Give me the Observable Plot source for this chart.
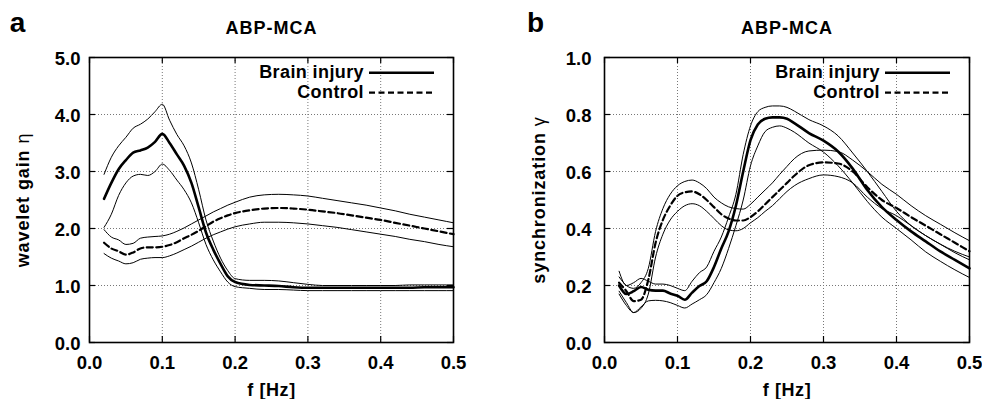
<!DOCTYPE html>
<html><head><meta charset="utf-8">
<script src="https://cdn.jsdelivr.net/npm/d3@7"></script>
<script src="https://cdn.jsdelivr.net/npm/@observablehq/plot@0.6"></script>
<style>
body{margin:0;background:#fff;}
#wrap{display:flex;width:982px;height:399px;background:#fff;}
</style></head><body><div id="wrap"></div>
<script>
// ---------- Panel a: wavelet gain ----------
const fA = [0.02,0.03,0.04,0.05,0.06,0.07,0.08,0.09,0.10,0.11,0.12,0.13,0.14,0.15,0.16,0.17,0.18,0.19,0.20,0.22,0.24,0.26,0.28,0.30,0.32,0.34,0.36,0.38,0.40,0.42,0.44,0.46,0.48,0.50];
const brainMeanA  = [2.52,2.80,3.04,3.20,3.33,3.37,3.42,3.52,3.66,3.50,3.30,3.10,2.80,2.37,1.93,1.63,1.38,1.16,1.06,1.01,1.00,0.99,0.97,0.96,0.96,0.96,0.96,0.96,0.96,0.96,0.96,0.97,0.97,0.97];
const brainUpperA = [2.95,3.25,3.45,3.60,3.76,3.83,3.92,4.05,4.18,3.90,3.65,3.45,3.15,2.68,2.15,1.78,1.48,1.26,1.12,1.09,1.09,1.08,1.05,1.02,1.00,1.00,1.00,1.00,1.00,1.00,1.01,1.01,1.01,1.01];
const brainLowerA = [2.02,2.25,2.58,2.80,2.92,2.95,2.93,3.00,3.13,3.02,2.85,2.68,2.45,2.10,1.72,1.45,1.24,1.06,0.98,0.95,0.93,0.93,0.92,0.91,0.91,0.91,0.91,0.91,0.91,0.91,0.91,0.91,0.91,0.91];
const controlMeanA  = [1.75,1.65,1.60,1.54,1.58,1.65,1.67,1.67,1.68,1.71,1.76,1.83,1.89,1.96,2.04,2.12,2.18,2.23,2.27,2.32,2.35,2.36,2.35,2.33,2.30,2.27,2.23,2.19,2.15,2.10,2.05,2.00,1.95,1.90];
const controlUpperA = [1.98,1.85,1.80,1.72,1.74,1.83,1.85,1.86,1.87,1.90,1.95,2.01,2.08,2.15,2.22,2.29,2.35,2.41,2.46,2.55,2.59,2.60,2.59,2.57,2.53,2.49,2.45,2.41,2.36,2.31,2.25,2.20,2.15,2.10];
const controlLowerA = [1.56,1.48,1.43,1.38,1.40,1.46,1.48,1.49,1.49,1.52,1.57,1.63,1.69,1.76,1.83,1.89,1.94,1.99,2.03,2.08,2.11,2.11,2.10,2.08,2.05,2.02,1.98,1.94,1.90,1.86,1.81,1.77,1.72,1.68];

// ---------- Panel b: synchronization ----------
const fB = [0.02,0.03,0.04,0.05,0.06,0.07,0.08,0.09,0.10,0.11,0.12,0.13,0.14,0.15,0.16,0.17,0.18,0.19,0.20,0.21,0.22,0.23,0.24,0.25,0.26,0.28,0.30,0.32,0.34,0.36,0.38,0.40,0.42,0.44,0.46,0.48,0.50];
const brainMeanB  = [0.200,0.170,0.180,0.195,0.185,0.182,0.182,0.172,0.164,0.150,0.175,0.198,0.215,0.265,0.330,0.390,0.480,0.600,0.710,0.765,0.785,0.790,0.790,0.785,0.770,0.735,0.708,0.670,0.610,0.535,0.475,0.430,0.390,0.355,0.320,0.290,0.260];
const brainUpperB = [0.250,0.200,0.210,0.225,0.215,0.205,0.205,0.200,0.190,0.182,0.215,0.245,0.265,0.320,0.370,0.440,0.520,0.660,0.760,0.810,0.825,0.830,0.830,0.825,0.812,0.782,0.760,0.725,0.665,0.600,0.530,0.460,0.410,0.375,0.345,0.315,0.290];
const brainLowerB = [0.170,0.130,0.105,0.125,0.146,0.148,0.146,0.140,0.130,0.121,0.135,0.150,0.168,0.210,0.260,0.330,0.410,0.500,0.620,0.690,0.740,0.755,0.760,0.752,0.738,0.700,0.668,0.620,0.560,0.495,0.440,0.400,0.360,0.318,0.285,0.255,0.228];
const controlMeanB  = [0.210,0.180,0.145,0.150,0.220,0.350,0.430,0.480,0.515,0.527,0.530,0.520,0.500,0.475,0.450,0.435,0.428,0.428,0.440,0.460,0.485,0.510,0.535,0.560,0.585,0.622,0.632,0.628,0.600,0.545,0.500,0.472,0.440,0.410,0.380,0.350,0.320];
const controlUpperB = [0.230,0.200,0.190,0.210,0.260,0.390,0.470,0.520,0.550,0.565,0.570,0.560,0.540,0.510,0.490,0.476,0.470,0.468,0.485,0.510,0.535,0.560,0.590,0.618,0.645,0.672,0.675,0.670,0.640,0.600,0.555,0.520,0.480,0.445,0.415,0.385,0.357];
const controlLowerB = [0.180,0.140,0.105,0.120,0.170,0.300,0.380,0.430,0.460,0.480,0.487,0.480,0.460,0.435,0.410,0.395,0.392,0.400,0.420,0.438,0.460,0.480,0.505,0.530,0.550,0.575,0.588,0.582,0.560,0.510,0.470,0.445,0.410,0.375,0.345,0.320,0.300];

// ---------- labels & ticks ----------
const xTicks = [0,0.1,0.2,0.3,0.4,0.5];
const yTicksA = [0,1,2,3,4,5];
const yTicksB = [0,0.2,0.4,0.6,0.8,1.0];
const titleText = "ABP-MCA";
const xLabel = "f [Hz]";
const legendLabels = ["Brain injury","Control"];

const FONT = "'Liberation Sans', Arial, Helvetica, sans-serif";

function rows(f, v){ return f.map((x,i)=>({f:x, v:v[i]})); }

function panel(cfg){
  const W=491, H=399, mt=57, mb=57;
  const {ml, mr} = cfg;
  const fw = W-ml-mr, fh = H-mt-mb;
  const thin = {x:"f", y:"v", stroke:"black", strokeWidth:1, curve:"monotone-x"};
  const s = cfg.series;
  const marks = [
    Plot.ruleX(xTicks.slice(1,-1), {x:d=>d, stroke:"#777", strokeWidth:1, strokeDasharray:"1,2"}),
    Plot.ruleY(cfg.yTicks.slice(1,-1), {y:d=>d, stroke:"#777", strokeWidth:1, strokeDasharray:"1,2"}),
    Plot.line(rows(cfg.f, s.brainUpper), thin),
    Plot.line(rows(cfg.f, s.brainLower), thin),
    Plot.line(rows(cfg.f, s.controlUpper), thin),
    Plot.line(rows(cfg.f, s.controlLower), thin),
    Plot.line(rows(cfg.f, s.controlMean), {x:"f", y:"v", stroke:"black", strokeWidth:2.2, strokeDasharray:"6,3.5", curve:"monotone-x"}),
    Plot.line(rows(cfg.f, s.brainMean), {x:"f", y:"v", stroke:"black", strokeWidth:2.6, curve:"monotone-x"}),
    Plot.ruleX(xTicks, {x:d=>d, insetTop: fh-6, stroke:"black", strokeWidth:1.2}),
    Plot.ruleX(xTicks, {x:d=>d, insetBottom: fh-6, stroke:"black", strokeWidth:1.2}),
    Plot.ruleY(cfg.yTicks, {y:d=>d, insetRight: fw-6, stroke:"black", strokeWidth:1.2}),
    Plot.ruleY(cfg.yTicks, {y:d=>d, insetLeft: fw-6, stroke:"black", strokeWidth:1.2}),
    Plot.frame({stroke:"black", strokeWidth:1.6}),
    Plot.axisX(xTicks, {tickSize:0, tickPadding:13, tickFormat:".1f", label:null, fontSize:18.5, fontWeight:"bold"}),
    Plot.axisY(cfg.yTicks, {tickSize:0, tickPadding:cfg.tickPad, tickFormat:".1f", label:null, fontSize:18.5, fontWeight:"bold", dy:2}),
    Plot.text([titleText], {text:d=>d, frameAnchor:"top", dy:-29, lineAnchor:"middle", fontSize:18, fontWeight:"bold"}),
    Plot.text([cfg.letter], {text:d=>d, frameAnchor:"top-left", textAnchor:"middle", lineAnchor:"middle", dx:cfg.letterX-ml, dy:23-mt, fontSize:28, fontWeight:"bold"}),
    Plot.text([xLabel], {text:d=>d, frameAnchor:"bottom", lineAnchor:"middle", dy:48, fontSize:18, fontWeight:"bold"}),
    Plot.text([cfg.yLabel], {text:d=>d, frameAnchor:"left", lineAnchor:"middle", textAnchor:"middle", rotate:-90, dx:cfg.yLabelX-ml, fontSize:18, fontWeight:"bold"})
  ];
  const svg = Plot.plot({
    width:W, height:H, marginLeft:ml, marginRight:mr, marginTop:mt, marginBottom:mb,
    x:{domain:[0,0.5]}, y:{domain:cfg.yDomain},
    style:{fontFamily:FONT, fontSize:"18px", fontWeight:"bold", background:"white", color:"black"},
    marks
  });
  // legend
  const R = W - mr;
  const g = d3.select(svg).append("g").attr("font-family", FONT).attr("font-size", 18).attr("font-weight", "bold");
  legendLabels.forEach((lab, i) => {
    const y = 72.7 + 20*i;
    g.append("text").attr("x", R-89).attr("y", y+5.5).attr("text-anchor", "end").attr("fill","black")
      .style("letter-spacing", "0.4px").text(lab);
    const ln = g.append("line").attr("x1", R-84).attr("x2", R-19).attr("y1", y).attr("y2", y)
      .attr("stroke", "black").attr("stroke-width", i ? 2.2 : 2.6);
    if (i) ln.attr("stroke-dasharray", "6,3.5");
  });
  // typographic tweaks: wider spacing for title/labels, regular-weight Greek symbol
  d3.select(svg).selectAll("text").each(function(){
    const t = d3.select(this);
    const txt = this.textContent;
    if (txt === titleText) t.style("letter-spacing", "1px");
    if (txt === xLabel) t.style("letter-spacing", "0.6px");
    if (txt === cfg.yLabel) {
      const parts = cfg.yLabel.split(" ");
      const greek = parts.pop();
      t.text(null).style("letter-spacing", "0.9px");
      t.append("tspan").text(parts.join(" ") + " ");
      t.append("tspan").attr("font-weight", "normal").text(greek);
    }
  });
  return svg;
}

const wrap = document.getElementById("wrap");
wrap.appendChild(panel({
  f:fA, series:{brainMean:brainMeanA, brainUpper:brainUpperA, brainLower:brainLowerA, controlMean:controlMeanA, controlUpper:controlUpperA, controlLower:controlLowerA},
  yDomain:[0,5], yTicks:yTicksA, ml:89, mr:38, tickPad:9, letter:"a", letterX:17, yLabel:"wavelet gain η", yLabelX:22.6
}));
wrap.appendChild(panel({
  f:fB, series:{brainMean:brainMeanB, brainUpper:brainUpperB, brainLower:brainLowerB, controlMean:controlMeanB, controlUpper:controlUpperB, controlLower:controlLowerB},
  yDomain:[0,1], yTicks:yTicksB, ml:113, mr:13, tickPad:13, letter:"b", letterX:44, yLabel:"synchronization γ", yLabelX:47.6
}));
</script></body></html>
